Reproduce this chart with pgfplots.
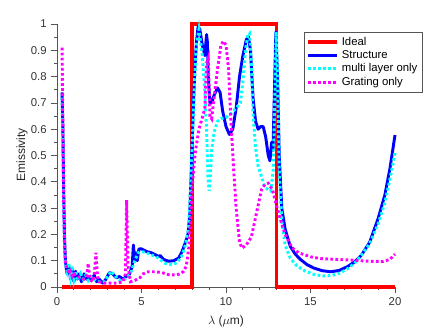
\documentclass[border=0pt]{standalone}
\usepackage{fontspec}
\setmainfont{Liberation Sans}
\usepackage{pgfplots}
\pgfplotsset{compat=1.18}

\definecolor{axgray}{RGB}{85,85,85}
\definecolor{pureblue}{RGB}{0,0,255}
\definecolor{purered}{RGB}{255,0,0}
\definecolor{purecyan}{RGB}{0,255,255}
\definecolor{puremagenta}{RGB}{255,0,255}

\begin{document}
\begin{tikzpicture}
\begin{axis}[
  scale only axis,
  width=253.5pt,
  height=197.25pt,
  xmin=0, xmax=20,
  ymin=0, ymax=1,
  clip=false,
  axis lines=left,
  axis line style={-, draw=axgray, line width=0.6pt},
  xtick={0,5,10,15,20},
  ytick={0,0.1,0.2,0.3,0.4,0.5,0.6,0.7,0.8,0.9,1},
  minor x tick num=4,
  minor y tick num=1,
  tick align=outside,
  major tick length=4.2pt,
  minor tick length=2.2pt,
  tick style={draw=axgray, line width=0.6pt},
  /pgf/number format/assume math mode=true,
  ticklabel style={font=\fontsize{8.5}{10}\selectfont, text=black!80},
  xlabel={$\lambda$ ($\mu$m)},
  ylabel={Emissivity},
  label style={font=\fontsize{9}{11}\selectfont, text=black!85},
  xlabel style={at={(axis description cs:0.5,-0.129)}, anchor=center},
  ylabel style={at={(axis description cs:-0.1036,0.502)}, anchor=center},
  legend style={at={(axis description cs:0.731,0.97)}, anchor=north west,
    draw=axgray, fill=white, font=\fontsize{8.5}{10}\selectfont,
    inner sep=1.5pt, row sep=-1.5pt},
  legend cell align=left,
  legend image code/.code={\draw[#1] (0pt,0pt) -- (22pt,0pt);},
]
\addplot[color=purered, line width=2.6pt, line join=miter] coordinates {
(0.3,0) (8,0) (8,1) (13,1) (13,0) (20,0)};
\addlegendentry{Ideal}

\addplot[color=pureblue, line width=2.2pt, line join=round] coordinates {
(0.3,0.74) (0.35,0.6) (0.4,0.35) (0.45,0.18) (0.5,0.1) (0.55,0.07) (0.6,0.05)
(0.7,0.08) (0.8,0.03) (0.9,0.07) (1.0,0.02) (1.1,0.06) (1.2,0.03) (1.3,0.05)
(1.45,0.02) (1.6,0.05) (1.75,0.03) (1.9,0.04) (2.0,0.025) (2.2,0.045) (2.35,0.02)
(2.5,0.03) (2.7,0.015) (2.9,0.03) (3.1,0.055) (3.3,0.05) (3.5,0.035) (3.7,0.04)
(3.9,0.03) (4.1,0.04) (4.3,0.05) (4.45,0.08) (4.52,0.16) (4.6,0.1) (4.68,0.13)
(4.75,0.1) (4.85,0.145) (5.0,0.145) (5.3,0.135) (5.6,0.13) (5.9,0.12) (6.0,0.115)
(6.1,0.12) (6.3,0.105) (6.6,0.098) (6.9,0.1) (7.2,0.11) (7.4,0.135) (7.6,0.17)
(7.75,0.2) (7.85,0.27) (7.95,0.45) (8.05,0.65) (8.15,0.82) (8.25,0.93) (8.35,0.99)
(8.45,0.98) (8.6,0.92) (8.75,0.88) (8.85,0.96) (8.9,0.93) (8.95,0.8) (9.05,0.7)
(9.15,0.7) (9.3,0.73) (9.5,0.757) (9.65,0.74) (9.8,0.67) (10.0,0.61) (10.2,0.58)
(10.4,0.6) (10.6,0.68) (10.8,0.8) (11.0,0.88) (11.2,0.94) (11.32,0.953) (11.45,0.9)
(11.6,0.72) (11.75,0.63) (11.9,0.6) (12.05,0.61) (12.2,0.61) (12.35,0.57) (12.5,0.5)
(12.6,0.48) (12.7,0.55) (12.78,0.52) (12.85,0.7) (12.95,0.97) (13.05,0.8) (13.15,0.5)
(13.3,0.3) (13.5,0.22) (13.8,0.155) (14.1,0.125) (14.4,0.105) (14.8,0.085)
(15.2,0.072) (15.7,0.062) (16.2,0.058) (16.7,0.063) (17.2,0.078) (17.6,0.095)
(18.0,0.12) (18.5,0.17) (19.0,0.26) (19.4,0.35) (19.7,0.45) (20.0,0.578)};
\addlegendentry{Structure}

\addplot[color=purecyan, line width=2.2pt, dash pattern=on 2pt off 1.8pt] coordinates {
(0.3,0.72) (0.35,0.55) (0.4,0.3) (0.45,0.15) (0.5,0.09) (0.6,0.06) (0.7,0.09)
(0.8,0.04) (0.9,0.08) (1.0,0.03) (1.1,0.06) (1.25,0.025) (1.4,0.05) (1.55,0.03)
(1.7,0.045) (1.85,0.025) (2.0,0.04) (2.2,0.03) (2.4,0.02) (2.6,0.02) (2.8,0.02)
(3.0,0.04) (3.2,0.06) (3.4,0.045) (3.6,0.03) (3.8,0.025) (4.0,0.03) (4.2,0.04)
(4.4,0.06) (4.6,0.1) (4.8,0.13) (5.0,0.135) (5.3,0.13) (5.6,0.122) (6.0,0.11)
(6.4,0.09) (6.8,0.085) (7.1,0.092) (7.4,0.12) (7.6,0.16) (7.75,0.21) (7.85,0.3)
(7.95,0.45) (8.05,0.63) (8.15,0.8) (8.25,0.92) (8.4,0.98) (8.5,0.93) (8.6,0.88)
(8.75,0.74) (8.85,0.6) (8.93,0.42) (9.0,0.365) (9.07,0.42) (9.15,0.52) (9.3,0.59)
(9.5,0.63) (9.7,0.64) (10.0,0.645) (10.3,0.66) (10.6,0.68) (10.85,0.7) (11.0,0.78)
(11.15,0.9) (11.3,0.96) (11.4,0.965) (11.5,0.85) (11.6,0.66) (11.75,0.53) (11.9,0.46)
(12.1,0.42) (12.3,0.38) (12.5,0.37) (12.65,0.365) (12.8,0.45) (12.9,0.75) (12.97,0.97)
(13.05,0.8) (13.15,0.45) (13.3,0.25) (13.5,0.16) (13.8,0.11) (14.2,0.08) (14.7,0.06)
(15.2,0.048) (15.75,0.042) (16.3,0.044) (16.8,0.055) (17.2,0.07) (17.6,0.09)
(18.0,0.12) (18.5,0.165) (19.0,0.24) (19.4,0.32) (19.7,0.41) (20.0,0.51)};
\addlegendentry{multi layer only}

\addplot[color=puremagenta, line width=2.2pt, dash pattern=on 2pt off 1.8pt] coordinates {
(0.3,0.91) (0.35,0.6) (0.4,0.3) (0.45,0.15) (0.5,0.09) (0.6,0.07) (0.7,0.05)
(0.8,0.06) (0.9,0.04) (1.0,0.05) (1.2,0.04) (1.4,0.035) (1.6,0.03) (1.75,0.04)
(1.85,0.09) (1.95,0.03) (2.1,0.02) (2.2,0.04) (2.3,0.13) (2.4,0.04) (2.5,0.02)
(2.8,0.015) (3.2,0.015) (3.6,0.015) (3.9,0.02) (4.05,0.05) (4.12,0.33) (4.2,0.08)
(4.35,0.02) (4.6,0.025) (4.9,0.035) (5.1,0.05) (5.4,0.058) (5.8,0.058) (6.2,0.055)
(6.6,0.047) (7.0,0.046) (7.3,0.05) (7.5,0.06) (7.65,0.08) (7.8,0.15) (7.9,0.25)
(8.0,0.38) (8.1,0.46) (8.2,0.52) (8.4,0.6) (8.6,0.645) (8.75,0.68) (8.85,0.85)
(8.95,0.87) (9.05,0.65) (9.15,0.64) (9.3,0.72) (9.5,0.83) (9.7,0.92) (9.85,0.935)
(10.0,0.92) (10.15,0.83) (10.3,0.62) (10.45,0.45) (10.6,0.3) (10.8,0.17) (10.95,0.148)
(11.2,0.16) (11.5,0.19) (11.8,0.28) (12.1,0.37) (12.3,0.39) (12.5,0.395) (12.75,0.37)
(12.95,0.32) (13.2,0.26) (13.5,0.2) (13.9,0.15) (14.3,0.13) (15.0,0.115) (15.6,0.108)
(16.5,0.105) (17.5,0.102) (18.5,0.098) (19.3,0.097) (19.7,0.105) (20.0,0.125)};
\addlegendentry{Grating only}

\coordinate (BL) at (rel axis cs:-0.1686,-0.1559);
\coordinate (TR) at (rel axis cs:1.1213,1.0913);
\end{axis}
\pgfresetboundingbox
\path[use as bounding box] (BL) rectangle (TR);
\end{tikzpicture}
\end{document}
